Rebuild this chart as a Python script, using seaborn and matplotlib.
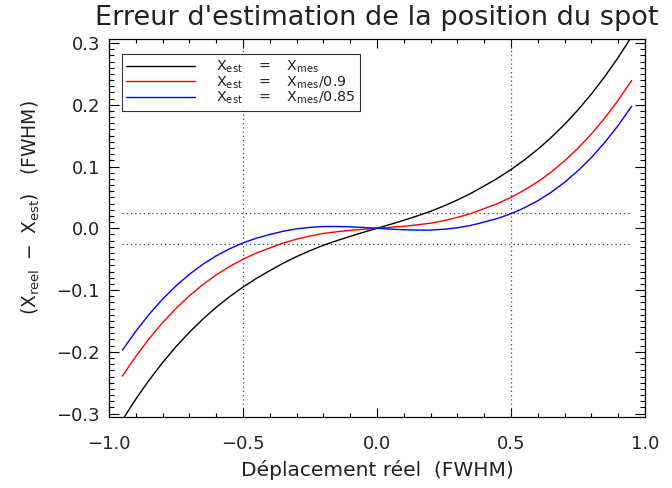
import numpy as np
import pandas as pd
import matplotlib
matplotlib.use("Agg")
import matplotlib.pyplot as plt
from matplotlib.ticker import MultipleLocator
import seaborn as sns

# ---- data ----
x_pos = [0.05, 0.10, 0.15, 0.20, 0.25, 0.30, 0.35, 0.40, 0.45, 0.50,
         0.55, 0.60, 0.65, 0.70, 0.75, 0.80, 0.85, 0.90, 0.95]
black_pos = [0.0064, 0.0130, 0.0200, 0.0275, 0.0362, 0.0458, 0.0565, 0.0686, 0.0811, 0.0951,
             0.1107, 0.1279, 0.1471, 0.1683, 0.1917, 0.2174, 0.2457, 0.2766, 0.3103]
red_pos = [0.0016, 0.0033, 0.0056, 0.0083, 0.0124, 0.0176, 0.0239, 0.0318, 0.0401, 0.0501,
           0.0619, 0.0754, 0.0912, 0.1092, 0.1297, 0.1527, 0.1786, 0.2073, 0.2392]
blue_pos = [-0.0013, -0.0024, -0.0029, -0.0029, -0.0015, 0.0009, 0.0047, 0.0101, 0.0160, 0.0236,
            0.0332, 0.0446, 0.0584, 0.0745, 0.0932, 0.1146, 0.1391, 0.1666, 0.1974]

x_vals = [-v for v in x_pos[::-1]] + [0.0] + x_pos
black = [-v for v in black_pos[::-1]] + [0.0] + black_pos
red = [-v for v in red_pos[::-1]] + [0.0] + red_pos
blue = [-v for v in blue_pos[::-1]] + [0.0] + blue_pos

series_names = ["k1", "k09", "k085"]
series_colors = ["black", "red", "blue"]
legend_labels = [r"$X_{est}\ \ \ =\ \ \ X_{mes}$",
                 r"$X_{est}\ \ \ =\ \ \ X_{mes}/0.9$",
                 r"$X_{est}\ \ \ =\ \ \ X_{mes}/0.85$"]
vlines_x = [-0.5, 0.5]
hlines_y = [-0.025, 0.025]

df = pd.DataFrame({
    "x": x_vals * 3,
    "y": black + red + blue,
    "s": sum([[n] * len(x_vals) for n in series_names], []),
})

sns.set_theme(style="white")
plt.rcParams["font.family"] = ["DejaVu Sans"]
plt.rcParams["mathtext.default"] = "regular"

fig = plt.figure(figsize=(6.72, 4.88), dpi=100)
ax = fig.add_axes([109 / 672, 1 - 417.3 / 488, 536 / 672, 378 / 488])

for xv in vlines_x:
    ax.axvline(xv, color="#444444", lw=0.9, ls=(0, (1, 2.4)), zorder=1)
ax.hlines(hlines_y, -0.95, 0.95, color="#444444", lw=0.9, ls=(0, (1, 2.4)), zorder=1)

sns.lineplot(data=df, x="x", y="y", hue="s", palette=dict(zip(series_names, series_colors)),
             lw=1.0, ax=ax, legend=False, sort=False, estimator=None)

ax.set_xlim(-1, 1)
ax.set_ylim(-0.306, 0.306)
ax.xaxis.set_major_locator(MultipleLocator(0.5))
ax.xaxis.set_minor_locator(MultipleLocator(0.1))
ax.yaxis.set_major_locator(MultipleLocator(0.1))
ax.yaxis.set_minor_locator(MultipleLocator(0.01))
ax.xaxis.set_major_formatter(plt.FuncFormatter(lambda v, p: f"{v:.1f}".replace("-", "\u2212")))
ax.yaxis.set_major_formatter(plt.FuncFormatter(lambda v, p: f"{v:.1f}".replace("-", "\u2212")))

for sp in ax.spines.values():
    sp.set_color("black")
    sp.set_linewidth(0.9)

ax.tick_params(axis="both", which="both", direction="in", bottom=True, left=True, top=True,
               right=True, colors="black", labelcolor="#222222", labelsize=13)
ax.tick_params(axis="x", which="major", length=6.5, width=0.8, pad=13)
ax.tick_params(axis="x", which="minor", length=3.2, width=0.8)
ax.tick_params(axis="y", which="major", length=7.2, width=0.8, pad=6.5)
ax.tick_params(axis="y", which="minor", length=3.6, width=0.8)

ax.set_xlabel("Déplacement réel  (FWHM)", fontsize=14.5, color="#222222", labelpad=5)
ax.set_ylabel(r"$(X_{reel}\ -\ X_{est})$   (FWHM)", fontsize=13.5, color="#222222")
ax.yaxis.set_label_coords(-0.125, 0.554)
ax.set_title("Erreur d'estimation de la position du spot", fontsize=19.5, color="#222222", pad=10)

handles = [plt.Line2D([], [], color=c, lw=1.0) for c in series_colors]
leg = ax.legend(handles, legend_labels, loc="upper left", bbox_to_anchor=(0.024, 0.96),
                fontsize=10.3, frameon=True, fancybox=False, edgecolor="black",
                handlelength=4.8, handletextpad=1.5, labelspacing=-0.05, borderpad=0.3,
                borderaxespad=0)
leg.get_frame().set_linewidth(0.8)
for t in leg.get_texts():
    t.set_color("#222222")

fig.savefig("out.png", dpi=100)
